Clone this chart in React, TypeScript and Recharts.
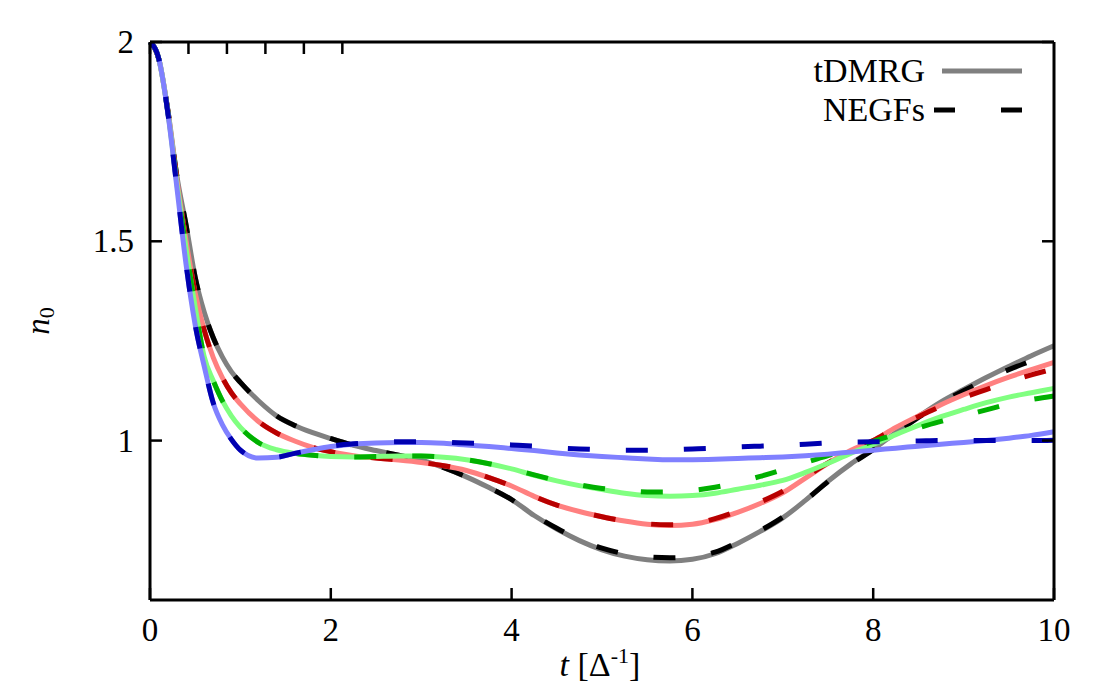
import React from 'react';
import { LineChart, Line, XAxis, YAxis } from 'recharts';

const T = [0, 0.1, 0.2, 0.3, 0.4, 0.5, 0.6, 0.7, 0.8, 0.9, 1.0, 1.2, 1.4, 1.6, 1.8, 2.0, 2.25, 2.5, 2.75, 3.0, 3.25, 3.5, 3.75, 4.0, 4.25, 4.5, 4.75, 5.0, 5.25, 5.5, 5.75, 6.0, 6.25, 6.5, 6.75, 7.0, 7.25, 7.5, 7.75, 8.0, 8.25, 8.5, 8.75, 9.0, 9.25, 9.5, 9.75, 10.0];

// tDMRG (solid, light colours)
const dmrgGray = [2.0, 1.955, 1.825, 1.66, 1.54, 1.41, 1.322, 1.258, 1.21, 1.173, 1.146, 1.1, 1.062, 1.038, 1.02, 1.005, 0.988, 0.975, 0.963, 0.951, 0.932, 0.909, 0.882, 0.852, 0.812, 0.778, 0.749, 0.726, 0.71, 0.701, 0.698, 0.702, 0.716, 0.742, 0.772, 0.806, 0.85, 0.898, 0.941, 0.978, 1.02, 1.06, 1.097, 1.128, 1.158, 1.186, 1.213, 1.238];
const dmrgRed = [2.0, 1.955, 1.822, 1.65, 1.5, 1.37, 1.277, 1.208, 1.158, 1.12, 1.092, 1.048, 1.019, 0.999, 0.983, 0.972, 0.962, 0.956, 0.951, 0.945, 0.937, 0.925, 0.907, 0.886, 0.86, 0.838, 0.822, 0.809, 0.798, 0.79, 0.787, 0.79, 0.802, 0.82, 0.842, 0.869, 0.906, 0.943, 0.975, 1.0, 1.033, 1.062, 1.09, 1.115, 1.138, 1.159, 1.178, 1.196];
const dmrgGreen = [2.0, 1.955, 1.82, 1.64, 1.48, 1.335, 1.21, 1.15, 1.1, 1.062, 1.033, 0.995, 0.977, 0.968, 0.963, 0.96, 0.959, 0.96, 0.961, 0.961, 0.958, 0.952, 0.942, 0.929, 0.913, 0.899, 0.887, 0.877, 0.868, 0.862, 0.86, 0.862, 0.868, 0.878, 0.888, 0.9, 0.92, 0.943, 0.968, 0.99, 1.015, 1.038, 1.06, 1.078, 1.095, 1.109, 1.12, 1.131];
const dmrgBlue = [2.0, 1.955, 1.818, 1.63, 1.44, 1.29, 1.186, 1.094, 1.04, 1.003, 0.976, 0.956, 0.958, 0.968, 0.977, 0.985, 0.991, 0.994, 0.995, 0.995, 0.993, 0.989, 0.985, 0.98, 0.975, 0.969, 0.964, 0.96, 0.957, 0.954, 0.952, 0.952, 0.953, 0.955, 0.957, 0.959, 0.962, 0.966, 0.971, 0.976, 0.981, 0.986, 0.991, 0.995, 1.0, 1.006, 1.013, 1.022];

// NEGFs (dashed, dark colours)
const negfBlack = [2.0, 1.955, 1.825, 1.66, 1.54, 1.41, 1.322, 1.258, 1.21, 1.173, 1.146, 1.1, 1.062, 1.038, 1.02, 1.005, 0.988, 0.975, 0.963, 0.951, 0.932, 0.909, 0.882, 0.852, 0.813, 0.78, 0.752, 0.73, 0.716, 0.708, 0.706, 0.709, 0.72, 0.745, 0.774, 0.808, 0.85, 0.897, 0.94, 0.977, 1.018, 1.058, 1.094, 1.125, 1.153, 1.178, 1.2, 1.222];
const negfRed = [2.0, 1.955, 1.822, 1.65, 1.5, 1.37, 1.277, 1.208, 1.158, 1.12, 1.092, 1.048, 1.019, 0.999, 0.983, 0.972, 0.962, 0.956, 0.951, 0.945, 0.937, 0.925, 0.907, 0.886, 0.86, 0.838, 0.822, 0.809, 0.798, 0.791, 0.789, 0.792, 0.804, 0.823, 0.846, 0.873, 0.908, 0.944, 0.975, 1.0, 1.032, 1.06, 1.086, 1.108, 1.128, 1.148, 1.165, 1.18];
const negfGreen = [2.0, 1.955, 1.82, 1.64, 1.48, 1.335, 1.21, 1.15, 1.1, 1.062, 1.033, 0.995, 0.977, 0.968, 0.963, 0.96, 0.959, 0.96, 0.961, 0.961, 0.958, 0.952, 0.942, 0.929, 0.914, 0.9, 0.889, 0.88, 0.874, 0.871, 0.871, 0.875, 0.883, 0.895, 0.91, 0.927, 0.945, 0.962, 0.98, 0.998, 1.016, 1.032, 1.048, 1.062, 1.077, 1.092, 1.103, 1.112];
const negfBlue = [2.0, 1.955, 1.818, 1.63, 1.44, 1.29, 1.186, 1.094, 1.04, 1.003, 0.976, 0.956, 0.958, 0.968, 0.977, 0.986, 0.992, 0.995, 0.997, 0.997, 0.996, 0.994, 0.992, 0.989, 0.986, 0.982, 0.979, 0.977, 0.976, 0.976, 0.977, 0.979, 0.981, 0.984, 0.986, 0.988, 0.991, 0.994, 0.996, 0.997, 0.998, 0.999, 1.0, 1.0, 1.0, 1.0, 1.0, 1.001];

const X_TICKS = [0, 2, 4, 6, 8, 10];
const Y_TICKS = [1, 1.5, 2];
const X_TICK_LABELS = ['0', '2', '4', '6', '8', '10'];
const Y_TICK_LABELS = ['1', '1.5', '2'];

const rows = T.map((t, i) => ({
  t,
  dmrgGray: dmrgGray[i],
  dmrgRed: dmrgRed[i],
  dmrgGreen: dmrgGreen[i],
  dmrgBlue: dmrgBlue[i],
  negfBlack: negfBlack[i],
  negfRed: negfRed[i],
  negfGreen: negfGreen[i],
  negfBlue: negfBlue[i],
}));

const FONT = '"Liberation Serif", "Times New Roman", serif';
const axisLine = { stroke: '#000', strokeWidth: 3 };
const DASH = '22 36';
const LW = 5;
const TICK_LEN = 12;
const TICK_W = 2.5;
const TICK_FS = 33;

const BottomTick = (props: any) => {
  const { x, y, payload } = props;
  const v = payload.value;
  const label = X_TICK_LABELS[X_TICKS.indexOf(v)] ?? String(v);
  return (
    <g>
      <line x1={x} y1={y} x2={x} y2={y - TICK_LEN} stroke="#000" strokeWidth={TICK_W} />
      <text x={x} y={y + 41} textAnchor="middle" fontSize={TICK_FS} fontFamily={FONT} fill="#000">{label}</text>
    </g>
  );
};
const TopTick = (props: any) => {
  const { x, y } = props;
  return <line x1={x} y1={y} x2={x} y2={y + TICK_LEN} stroke="#000" strokeWidth={TICK_W} />;
};
const LeftTick = (props: any) => {
  const { x, y, payload } = props;
  const v = payload.value;
  const label = Y_TICK_LABELS[Y_TICKS.indexOf(v)] ?? String(v);
  return (
    <g>
      <line x1={x} y1={y} x2={x + TICK_LEN} y2={y} stroke="#000" strokeWidth={TICK_W} />
      <text x={x - 16} y={y + 11} textAnchor="end" fontSize={TICK_FS} fontFamily={FONT} fill="#000">{label}</text>
    </g>
  );
};
const RightTick = (props: any) => {
  const { x, y } = props;
  return <line x1={x} y1={y} x2={x - TICK_LEN} y2={y} stroke="#000" strokeWidth={TICK_W} />;
};

const pairs = [
  { solid: 'dmrgGray', solidColor: '#808080', dash: 'negfBlack', dashColor: '#000000' },
  { solid: 'dmrgRed', solidColor: '#ff8080', dash: 'negfRed', dashColor: '#b80000' },
  { solid: 'dmrgGreen', solidColor: '#80ff80', dash: 'negfGreen', dashColor: '#00b000' },
  { solid: 'dmrgBlue', solidColor: '#8080ff', dash: 'negfBlue', dashColor: '#0000b0' },
];

export default function App() {
  return (
    <div style={{ position: 'absolute', left: 0, top: 0, width: 1100, height: 700, background: '#fff' }}>
      <LineChart width={1100} height={700} data={rows} margin={{ top: 41, right: 45, bottom: 60, left: 90 }}>
        <XAxis
          dataKey="t"
          type="number"
          domain={[0, 10]}
          ticks={X_TICKS}
          interval={0}
          height={40}
          tickSize={0}
          tickMargin={0}
          axisLine={axisLine}
          tickLine={false}
          tick={BottomTick}
        />
        <XAxis
          xAxisId="top"
          orientation="top"
          type="number"
          domain={[0, 10]}
          ticks={X_TICKS}
          interval={0}
          height={1}
          tickSize={0}
          tickMargin={0}
          axisLine={axisLine}
          tickLine={false}
          tick={TopTick}
        />
        <YAxis
          type="number"
          domain={[0.6, 2]}
          ticks={Y_TICKS}
          interval={0}
          width={60}
          tickSize={0}
          tickMargin={0}
          axisLine={axisLine}
          tickLine={false}
          tick={LeftTick}
          allowDataOverflow
        />
        <YAxis
          yAxisId="right"
          orientation="right"
          type="number"
          domain={[0.6, 2]}
          ticks={Y_TICKS}
          interval={0}
          width={1}
          tickSize={0}
          tickMargin={0}
          axisLine={axisLine}
          tickLine={false}
          tick={RightTick}
          allowDataOverflow
        />
        {pairs.flatMap((p) => [
          <Line
            key={p.solid}
            type="monotone"
            dataKey={p.solid}
            stroke={p.solidColor}
            strokeWidth={LW}
            dot={false}
            activeDot={false}
            isAnimationActive={false}
          />,
          <Line
            key={p.dash}
            type="monotone"
            dataKey={p.dash}
            stroke={p.dashColor}
            strokeWidth={LW}
            strokeDasharray={DASH}
            dot={false}
            activeDot={false}
            isAnimationActive={false}
          />,
        ])}
      </LineChart>
      <svg
        width={1100}
        height={700}
        style={{ position: 'absolute', left: 0, top: 0, pointerEvents: 'none' }}
      >
        <g fontFamily={FONT} fill="#000">
          <text x={925} y={82} fontSize={34} textAnchor="end">tDMRG</text>
          <line x1={942} y1={71} x2={1022} y2={71} stroke="#808080" strokeWidth={LW} />
          <text x={925} y={121} fontSize={34} textAnchor="end">NEGFs</text>
          <line x1={934} y1={110} x2={1022} y2={110} stroke="#000" strokeWidth={LW} strokeDasharray="21 46" />
          <text x={600} y={676} fontSize={34} textAnchor="middle">
            <tspan fontStyle="italic">t</tspan>
            <tspan> [Δ</tspan>
            <tspan dy={-13} fontSize={22}>-1</tspan>
            <tspan dy={13}>]</tspan>
          </text>
          <text x={49} y={321} fontSize={33} textAnchor="middle" transform="rotate(-90 49 321)">
            <tspan fontStyle="italic">n</tspan>
            <tspan dy={5} fontSize={22}>0</tspan>
          </text>
        </g>
      </svg>
    </div>
  );
}
